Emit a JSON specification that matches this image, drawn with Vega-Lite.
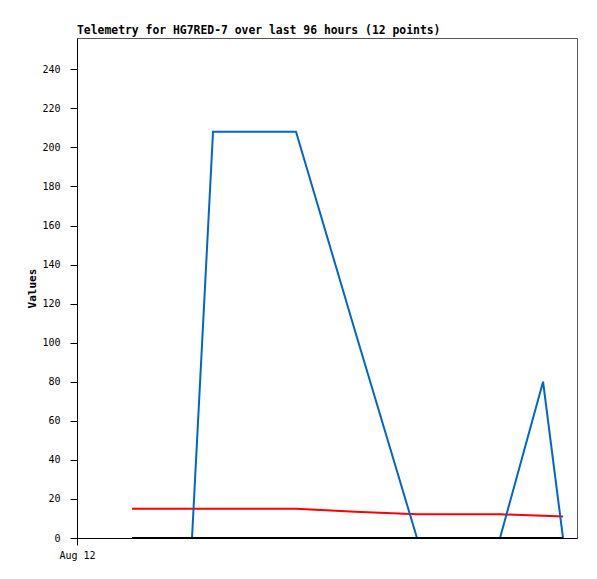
{
  "$schema": "https://vega.github.io/schema/vega-lite/v6.json",
  "autosize": "none",
  "width": 500,
  "height": 500,
  "padding": {"left": 77, "top": 38, "right": 20, "bottom": 41},
  "background": "white",
  "config": {
    "view": {"stroke": "#555555", "strokeWidth": 1},
    "font": "DejaVu Sans Mono"
  },
  "title": {
    "text": "Telemetry for HG7RED-7 over last 96 hours (12 points)",
    "anchor": "start",
    "frame": "group",
    "font": "DejaVu Sans Mono",
    "fontSize": 11.4,
    "fontWeight": "bold",
    "color": "black",
    "offset": 2
  },
  "data": {
    "values": [
      {"t": "2024-08-12T10:34:00", "series": "black", "v": 0},
      {"t": "2024-08-12T16:19:00", "series": "black", "v": 0},
      {"t": "2024-08-12T22:05:00", "series": "black", "v": 0},
      {"t": "2024-08-13T02:07:00", "series": "black", "v": 0},
      {"t": "2024-08-13T09:59:00", "series": "black", "v": 0},
      {"t": "2024-08-13T18:03:00", "series": "black", "v": 0},
      {"t": "2024-08-14T05:23:00", "series": "black", "v": 0},
      {"t": "2024-08-14T17:17:00", "series": "black", "v": 0},
      {"t": "2024-08-15T01:09:00", "series": "black", "v": 0},
      {"t": "2024-08-15T09:13:00", "series": "black", "v": 0},
      {"t": "2024-08-15T17:29:00", "series": "black", "v": 0},
      {"t": "2024-08-15T21:19:00", "series": "black", "v": 0},
      {"t": "2024-08-12T10:34:00", "series": "red", "v": 15},
      {"t": "2024-08-12T16:19:00", "series": "red", "v": 15},
      {"t": "2024-08-12T22:05:00", "series": "red", "v": 15},
      {"t": "2024-08-13T02:07:00", "series": "red", "v": 15},
      {"t": "2024-08-13T09:59:00", "series": "red", "v": 15},
      {"t": "2024-08-13T18:03:00", "series": "red", "v": 15},
      {"t": "2024-08-14T05:23:00", "series": "red", "v": 13.5},
      {"t": "2024-08-14T17:17:00", "series": "red", "v": 12.1},
      {"t": "2024-08-15T01:09:00", "series": "red", "v": 12.1},
      {"t": "2024-08-15T09:13:00", "series": "red", "v": 12.1},
      {"t": "2024-08-15T17:29:00", "series": "red", "v": 11.4},
      {"t": "2024-08-15T21:19:00", "series": "red", "v": 11},
      {"t": "2024-08-12T10:34:00", "series": "blue", "v": 0},
      {"t": "2024-08-12T16:19:00", "series": "blue", "v": 0},
      {"t": "2024-08-12T22:05:00", "series": "blue", "v": 0},
      {"t": "2024-08-13T02:07:00", "series": "blue", "v": 208},
      {"t": "2024-08-13T09:59:00", "series": "blue", "v": 208},
      {"t": "2024-08-13T18:03:00", "series": "blue", "v": 208},
      {"t": "2024-08-14T05:23:00", "series": "blue", "v": 106},
      {"t": "2024-08-14T17:17:00", "series": "blue", "v": 0},
      {"t": "2024-08-15T01:09:00", "series": "blue", "v": 0},
      {"t": "2024-08-15T09:13:00", "series": "blue", "v": 0},
      {"t": "2024-08-15T17:29:00", "series": "blue", "v": 80},
      {"t": "2024-08-15T21:19:00", "series": "blue", "v": 0}
    ]
  },
  "encoding": {
    "x": {
      "field": "t",
      "type": "temporal",
      "title": null,
      "scale": {
        "domain": [
          {"year": 2024, "month": 8, "date": 12, "hours": 0},
          {"year": 2024, "month": 8, "date": 16, "hours": 0}
        ]
      },
      "axis": {
        "values": [{"year": 2024, "month": 8, "date": 12, "hours": 0}],
        "format": "%b %d",
        "grid": false,
        "domainColor": "black",
        "domainWidth": 1,
        "tickColor": "black",
        "tickSize": 7,
        "labelPadding": 5,
        "labelFont": "DejaVu Sans Mono",
        "labelFontSize": 10,
        "labelColor": "black",
        "labelFlush": false
      }
    },
    "y": {
      "field": "v",
      "type": "quantitative",
      "title": "Values",
      "scale": {"domain": [0, 256], "nice": false, "zero": true},
      "axis": {
        "values": [0, 20, 40, 60, 80, 100, 120, 140, 160, 180, 200, 220, 240],
        "grid": false,
        "domainColor": "black",
        "domainWidth": 1,
        "tickColor": "black",
        "tickSize": 7,
        "labelPadding": 10,
        "labelFont": "DejaVu Sans Mono",
        "labelFontSize": 10,
        "labelColor": "black",
        "titleFont": "DejaVu Sans Mono",
        "titleFontSize": 11,
        "titleFontWeight": "bold",
        "titleColor": "black",
        "titleAngle": -90,
        "titleX": -45,
        "titleY": 250,
        "titleAlign": "center",
        "titleBaseline": "middle"
      }
    },
    "color": {
      "field": "series",
      "type": "nominal",
      "scale": {"domain": ["black", "red", "blue"], "range": ["#000000", "#ff0000", "#0066cc"]},
      "legend": null
    }
  },
  "layer": [
    {"transform": [{"filter": "datum.series === 'red'"}], "mark": {"type": "line", "strokeWidth": 2, "interpolate": "linear"}},
    {"transform": [{"filter": "datum.series === 'blue'"}], "mark": {"type": "line", "strokeWidth": 2, "interpolate": "linear"}},
    {"transform": [{"filter": "datum.series === 'black'"}], "mark": {"type": "line", "strokeWidth": 2, "interpolate": "linear"}}
  ]
}
